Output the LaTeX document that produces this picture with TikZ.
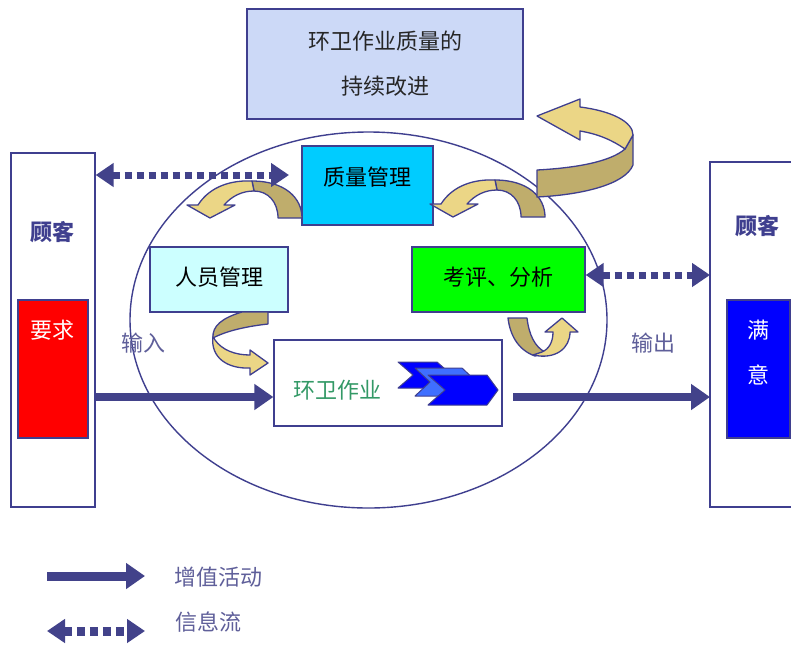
\documentclass[tikz,border=0pt]{standalone}
\usepackage{fontspec}
\newfontfamily\cjk{Noto Sans CJK SC}
\usetikzlibrary{arrows.meta,shapes.geometric}
\definecolor{navy}{HTML}{3F3F8F}
\definecolor{arrowblue}{HTML}{42428A}
\definecolor{topblue}{HTML}{CCD9F7}
\definecolor{qmcyan}{HTML}{00CCFF}
\definecolor{pmcyan}{HTML}{CCFFFF}
\definecolor{evgreen}{HTML}{00FF00}
\definecolor{workgreen}{HTML}{339966}
\definecolor{ribLight}{HTML}{EBD686}
\definecolor{ribDark}{HTML}{BFAD6C}
\definecolor{chevA}{HTML}{0000FF}
\definecolor{chevB}{HTML}{3F6FFF}
\definecolor{labgray}{HTML}{5F5F9A}
\definecolor{custblue}{HTML}{0000FF}
\definecolor{custred}{HTML}{FF0000}
\begin{document}
\begin{tikzpicture}[x=1pt,y=-1pt,
  font=\cjk\fontsize{22}{26}\selectfont,
  box/.style={draw=navy, line width=1.3pt, inner sep=0pt},
  txt/.style={inner sep=0pt},
  flow/.style={line width=8pt, draw=arrowblue, -{Triangle[length=19pt,width=25pt]}},
  info/.style={line width=7pt, draw=arrowblue, dash pattern=on 7pt off 5pt,
    {Triangle[length=18pt,width=23pt]}-{Triangle[length=18pt,width=23pt]}},
  rib/.style={draw=navy, line width=1.3pt, line join=round},
  chev/.style={draw=navy, line width=1pt, line join=round}]
\useasboundingbox (0,0) rectangle (791,646);
\fill[white] (0,0) rectangle (791,646);

% ellipse
\node[draw=navy, line width=1.4pt, ellipse, minimum width=477pt, minimum height=376pt, inner sep=0pt] (ell) at (368.5,320) {};

% top box
\node[box, fill=topblue, minimum width=276pt, minimum height=110pt, align=center,
  font=\cjk\fontsize{22}{45}\selectfont, text=black!85] (top) at (385,64) {环卫作业质量的\\持续改进};

% customers
\node[box, fill=white, minimum width=84pt, minimum height=354pt] (lc) at (53,330) {};
\node[txt, text=navy, font=\cjk\bfseries\fontsize{22}{26}\selectfont] (lcT) at (52,232) {顾客};
\node[box, fill=custred, minimum width=70pt, minimum height=138pt] (req) at (53,369) {};
\node[txt, text=white] (reqT) at (52,330) {要求};

\draw[navy, line width=1.3pt] (800,162) -- (710,162) -- (710,507) -- (800,507);
\coordinate (rcW) at (710,330);
\node[txt, text=navy, font=\cjk\bfseries\fontsize{22}{26}\selectfont] (rcT) at (757,226) {顾客};
\node[box, fill=custblue, minimum width=63pt, minimum height=138pt] (sat) at (758.5,369) {};
\node[txt, text=white] (sat1) at (758,330) {满};
\node[txt, text=white] (sat2) at (758,375) {意};

% inner boxes
\node[box, fill=qmcyan, minimum width=131pt, minimum height=79pt] (qm) at (367.5,185.5) {};
\node[txt] (qmT) at (367,177) {质量管理};
\node[box, fill=pmcyan, minimum width=138pt, minimum height=65pt] (pm) at (219,279.5) {};
\node[txt] (pmT) at (219,277) {人员管理};
\node[box, fill=evgreen, minimum width=173pt, minimum height=65pt] (ev) at (498.5,279.5) {};
\node[txt] (evT) at (498,277) {考评、分析};
\node[box, fill=white, minimum width=228pt, minimum height=86pt] (work) at (388,383) {};
\node[txt, text=workgreen] (workT) at (337,390) {环卫作业};

% chevrons
\draw[chev, fill=chevA] (398,362) -- (437,362) -- (452,375) -- (437,388) -- (398,388) -- (413,375) -- cycle;
\draw[chev, fill=chevB] (415,368) -- (462,368) -- (477,382) -- (462,396) -- (415,396) -- (430,382) -- cycle;
\draw[chev, fill=chevA] (428,375) -- (487,375) -- (498,390) -- (487,405) -- (428,405) -- (445,390) -- cycle;

% ribbons A and B (around quality management)
\foreach \dx/\dy in {0/0, 243/-1}{
\begin{scope}[shift={(\dx,\dy)}]
\draw[rib, fill=ribDark] (252,181) .. controls (285,181) and (302,198) .. (302,218) -- (278,218) .. controls (278,202) and (268,191) .. (254,191) -- cycle;
\draw[rib, fill=ribLight] (198,205) .. controls (210,186) and (232,180) .. (252,181) -- (254,191) .. controls (242,191) and (232,196) .. (224,205) -- (235,205) -- (210,218) -- (187,205) -- cycle;
\end{scope}}

% ribbon C (top right, continuous improvement)
\draw[rib, fill=ribDark] (633,135) -- (633,165) .. controls (625,185) and (580,195) .. (537,197) -- (537,170) .. controls (575,168) and (610,162) .. (625,149) -- cycle;
\draw[rib, fill=ribLight] (537,116) -- (580,99) -- (580,107) .. controls (612,111) and (633,122) .. (633,135) -- (625,149) .. controls (612,140) and (598,134) .. (580,131) -- (580,140) -- cycle;

% ribbon D (personnel -> work)
\draw[rib, fill=ribLight] (213,336) .. controls (210,358) and (228,369) .. (250,368) -- (250,375) -- (268,363) -- (250,350) -- (250,355) .. controls (235,355) and (222,350) .. (215,340) -- cycle;
\draw[rib, fill=ribDark] (242,312) .. controls (222,318) and (212,326) .. (213,338) .. controls (228,330) and (250,326) .. (268,324) -- (268,312) -- cycle;

% ribbon E (below evaluation)
\draw[rib, fill=ribDark] (508,318) -- (527,318) .. controls (529,335) and (535,347) .. (545,352) -- (535,356) .. controls (518,350) and (510,335) .. (508,318) -- cycle;
\draw[rib, fill=ribLight] (533,355) .. controls (556,360) and (570,348) .. (570,332) -- (578,332) -- (562,318) -- (545,332) -- (553,332) .. controls (553,342) and (549,349) .. (542,352) -- cycle;

% connectors
\coordinate (qmIn) at (289,175);
\draw[info] (lc.east |- qmIn) -- (qmIn);
\coordinate (evY) at (0,275);
\draw[info] (ev.east |- evY) -- (rcW |- evY);
\coordinate (inY) at (0,397);
\draw[flow] (lc.east |- inY) -- (work.west |- inY);
\coordinate (outS) at (513,397);
\draw[flow] (outS) -- (rcW |- outS);

\node[txt, text=labgray] (inL) at (143,343) {输入};
\node[txt, text=labgray] (outL) at (653,343) {输出};

% legend
\coordinate (lg1a) at (47,576);
\coordinate (lg1b) at (145,576);
\draw[flow, line width=9pt] (lg1a) -- (lg1b);
\node[txt, text=labgray] (lg1T) at (218,577) {增值活动};
\coordinate (lg2a) at (47,631);
\coordinate (lg2b) at (145,631);
\draw[info, line width=9pt, dash pattern=on 8pt off 5pt] (lg2a) -- (lg2b);
\node[txt, text=labgray] (lg2T) at (208,622) {信息流};
\end{tikzpicture}
\end{document}
